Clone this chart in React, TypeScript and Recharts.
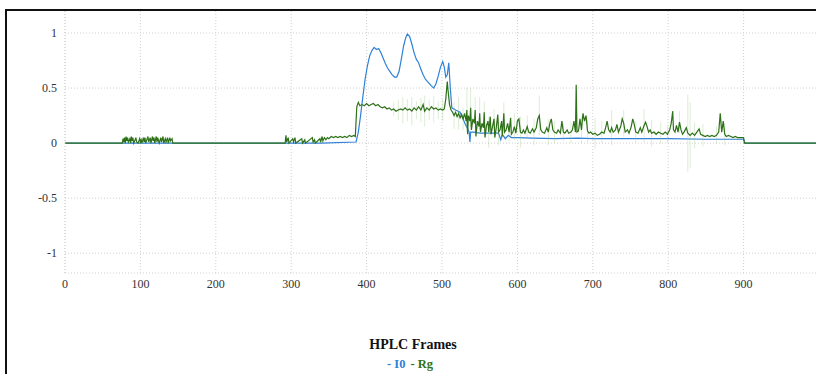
import { LineChart, Line, XAxis, YAxis, CartesianGrid, ErrorBar } from 'recharts';

// HPLC frame numbers / values
const i0Frames = [0, 340, 386, 389, 392, 395, 398, 401, 404, 407, 410, 413, 416, 419, 422, 425, 428, 431, 434, 437, 440, 443, 446, 449, 452, 454, 457, 460, 463, 466, 469, 472, 475, 478, 482, 486, 489, 492, 495, 498, 501, 503, 505, 507, 509, 511, 513, 518, 524, 528, 531, 534, 536, 537, 538, 542, 550, 560, 575, 578, 580, 584, 588, 592, 600, 620, 650, 680, 700, 750, 800, 850, 900, 902, 1000];
const i0Values = [0, 0, 0.01, 0.1, 0.25, 0.42, 0.58, 0.7, 0.79, 0.84, 0.87, 0.85, 0.86, 0.82, 0.77, 0.72, 0.68, 0.65, 0.62, 0.6, 0.6, 0.65, 0.76, 0.88, 0.96, 0.99, 0.97, 0.9, 0.82, 0.76, 0.73, 0.67, 0.62, 0.58, 0.55, 0.52, 0.5, 0.54, 0.61, 0.69, 0.74, 0.69, 0.6, 0.62, 0.73, 0.5, 0.32, 0.3, 0.28, 0.22, 0.17, 0.13, 0.1, 0.01, 0.1, 0.1, 0.09, 0.09, 0.09, 0.03, 0.08, 0.04, 0.07, 0.05, 0.05, 0.045, 0.04, 0.045, 0.04, 0.04, 0.04, 0.035, 0.035, 0, 0];

const rgFrames = [0, 76, 77, 78, 79, 80, 81, 82, 83, 84, 86, 87, 88, 89, 90, 91, 93, 94, 95, 97, 99, 100, 101, 102, 104, 105, 106, 107, 109, 110, 111, 113, 114, 116, 117, 118, 119, 121, 122, 123, 125, 127, 128, 130, 131, 133, 134, 136, 137, 139, 140, 142, 143, 292, 293, 294, 296, 297, 302, 303, 305, 306, 314, 315, 318, 319, 328, 329, 331, 332, 338, 339, 341, 342, 344, 346, 348, 350, 353, 356, 359, 362, 365, 368, 371, 374, 377, 380, 383, 385, 387, 389, 391, 394, 397, 400, 403, 406, 409, 412, 415, 418, 421, 424, 427, 430, 433, 436, 439, 442, 445, 448, 451, 454, 457, 460, 463, 466, 469, 472, 475, 477, 480, 483, 486, 489, 492, 495, 498, 501, 503, 505, 507, 508, 510, 512, 514, 516, 518, 520, 522, 524, 526, 528, 530, 532, 533, 534, 535, 537, 538, 539, 541, 543, 544, 545, 547, 549, 550, 551, 553, 555, 556, 557, 559, 561, 562, 564, 565, 567, 569, 570, 572, 574, 575, 577, 579, 580, 582, 583, 585, 587, 589, 591, 592, 594, 596, 598, 600, 602, 604, 606, 608, 610, 613, 615, 617, 620, 622, 625, 627, 629, 631, 633, 636, 639, 641, 643, 645, 647, 649, 652, 654, 657, 659, 661, 663, 666, 668, 671, 673, 675, 677, 678, 679, 681, 683, 685, 687, 689, 691, 693, 695, 697, 700, 703, 706, 709, 712, 715, 717, 719, 721, 723, 725, 727, 730, 732, 734, 737, 739, 741, 743, 746, 748, 751, 753, 755, 757, 760, 763, 765, 768, 770, 772, 774, 776, 778, 781, 784, 787, 790, 793, 796, 799, 802, 804, 806, 807, 809, 811, 813, 815, 817, 819, 821, 824, 826, 829, 832, 835, 838, 841, 843, 846, 849, 852, 855, 858, 861, 864, 867, 869, 871, 873, 875, 877, 880, 883, 886, 889, 892, 895, 898, 900, 901, 1000];
const rgValues = [0, 0, 0.04, 0.01, 0.05, 0, 0.06, 0.02, 0.05, 0.01, 0.04, 0, 0.06, 0.02, 0.05, 0, 0.03, 0.05, 0.01, 0, 0.04, 0.01, 0.03, 0, 0.05, 0.01, 0.05, 0, 0.04, 0.06, 0.01, 0.05, 0, 0.06, 0.02, 0.05, 0, 0.06, 0.01, 0.05, 0, 0.05, 0.01, 0.06, 0, 0.04, 0.01, 0.05, 0, 0.05, 0.02, 0.04, 0, 0, 0.07, 0.01, 0.05, 0, 0.04, 0.01, 0.05, 0, 0.04, 0, 0.03, 0, 0.05, 0.01, 0.03, 0, 0.04, 0.01, 0.06, 0.02, 0.05, 0.03, 0.05, 0.04, 0.06, 0.05, 0.06, 0.05, 0.06, 0.05, 0.06, 0.05, 0.07, 0.06, 0.07, 0.06, 0.33, 0.37, 0.34, 0.35, 0.34, 0.36, 0.34, 0.35, 0.36, 0.34, 0.35, 0.33, 0.32, 0.33, 0.31, 0.32, 0.3, 0.31, 0.29, 0.3, 0.31, 0.3, 0.32, 0.3, 0.31, 0.29, 0.32, 0.3, 0.33, 0.3, 0.35, 0.29, 0.32, 0.3, 0.33, 0.31, 0.32, 0.3, 0.31, 0.3, 0.31, 0.4, 0.56, 0.48, 0.35, 0.3, 0.28, 0.25, 0.28, 0.24, 0.27, 0.23, 0.26, 0.22, 0.27, 0.2, 0.3, 0.08, 0.25, 0.2, 0.32, 0.12, 0.22, 0.18, 0.3, 0.06, 0.2, 0.15, 0.27, 0.1, 0.18, 0.14, 0.28, 0.05, 0.16, 0.2, 0.1, 0.24, 0.08, 0.15, 0.22, 0.05, 0.14, 0.26, 0.1, 0.12, 0.2, 0.06, 0.27, 0.1, 0.12, 0.18, 0.1, 0.23, 0.08, 0.1, 0.15, 0.09, 0.2, 0.22, 0.1, 0.09, 0.12, 0.09, 0.15, 0.1, 0.09, 0.13, 0.1, 0.14, 0.22, 0.25, 0.12, 0.1, 0.09, 0.14, 0.1, 0.18, 0.22, 0.12, 0.1, 0.09, 0.12, 0.09, 0.2, 0.1, 0.09, 0.12, 0.09, 0.1, 0.12, 0.2, 0.1, 0.53, 0.1, 0.11, 0.22, 0.12, 0.27, 0.2, 0.25, 0.11, 0.09, 0.1, 0.08, 0.09, 0.07, 0.08, 0.1, 0.09, 0.14, 0.2, 0.12, 0.1, 0.14, 0.1, 0.12, 0.17, 0.1, 0.15, 0.22, 0.18, 0.1, 0.12, 0.09, 0.15, 0.22, 0.17, 0.1, 0.09, 0.14, 0.1, 0.16, 0.19, 0.15, 0.1, 0.12, 0.09, 0.1, 0.08, 0.1, 0.09, 0.08, 0.1, 0.08, 0.12, 0.18, 0.29, 0.12, 0.1, 0.16, 0.1, 0.19, 0.12, 0.08, 0.1, 0.14, 0.09, 0.07, 0.09, 0.07, 0.1, 0.13, 0.08, 0.07, 0.06, 0.07, 0.06, 0.07, 0.06, 0.07, 0.1, 0.27, 0.1, 0.2, 0.08, 0.06, 0.07, 0.06, 0.05, 0.06, 0.05, 0.05, 0.05, 0.05, 0, 0];

// Rg uncertainty (faint error bars), only where visible
const rgErrFrames = [436, 442, 448, 454, 460, 466, 472, 477, 483, 489, 495, 501, 516, 522, 528, 533, 538, 544, 550, 556, 562, 569, 575, 582, 589, 596, 604, 613, 622, 629, 641, 649, 661, 671, 685, 693, 703, 712, 725, 741, 757, 768, 778, 790, 799, 815, 826, 829, 835, 846, 864, 875];
const rgErrValues = [0.06, 0.09, 0.12, 0.1, 0.13, 0.08, 0.11, 0.14, 0.09, 0.12, 0.08, 0.1, 0.12, 0.15, 0.1, 0.2, 0.18, 0.12, 0.15, 0.1, 0.14, 0.09, 0.12, 0.1, 0.08, 0.12, 0.14, 0.1, 0.12, 0.18, 0.12, 0.1, 0.08, 0.1, 0.12, 0.1, 0.14, 0.1, 0.16, 0.12, 0.1, 0.15, 0.12, 0.1, 0.08, 0.1, 0.35, 0.3, 0.12, 0.1, 0.08, 0.1];

const xTicks = [0, 100, 200, 300, 400, 500, 600, 700, 800, 900];
const yTicks = [-1, -0.5, 0, 0.5, 1];

const i0Data = i0Frames.map((f, i) => ({ frame: f, value: i0Values[i] }));
const rgData = rgFrames.map((f, i) => {
  const k = rgErrFrames.indexOf(f);
  return { frame: f, value: rgValues[i], err: k >= 0 ? rgErrValues[k] : 0 };
});

const BLUE = '#2f80d8';
const GREEN = '#2e7118';
const tickStyle = { fill: '#333', fontSize: 12, fontFamily: '"Liberation Serif", serif' };
const dotted = { stroke: '#d0d0d0', strokeDasharray: '1 2' };

export default function App() {
  return (
    <div style={{ position: 'fixed', left: 0, top: 0, width: 816, height: 374, overflow: 'hidden', background: '#fff' }}>
      <div style={{ position: 'absolute', left: 5, top: 9, width: 1000, height: 1000, borderLeft: '2px solid #111', borderTop: '2px solid #111' }} />
      <div style={{ position: 'absolute', left: 0, top: 0 }}>
        <LineChart width={830} height={300} margin={{ top: 11, right: 11, left: 8, bottom: 0 }}>
          <CartesianGrid stroke="#d0d0d0" strokeDasharray="1 2" horizontalValues={yTicks} verticalValues={[...xTicks, 1000]} />
          <XAxis
            type="number"
            dataKey="frame"
            domain={[0, 1000]}
            ticks={xTicks}
            allowDataOverflow
            height={27}
            tickLine={false}
            tickSize={6}
            tickMargin={0}
            axisLine={dotted}
            tick={tickStyle}
          />
          <YAxis
            type="number"
            domain={[-1.18, 1.2]}
            ticks={yTicks}
            allowDataOverflow
            width={57}
            tickLine={false}
            axisLine={dotted}
            tick={tickStyle}
          />
          <Line data={i0Data} dataKey="value" name="I0" type="linear" stroke={BLUE} strokeWidth={1.2} dot={false} isAnimationActive={false} />
          <Line data={rgData} dataKey="value" name="Rg" type="linear" stroke={GREEN} strokeWidth={1.2} dot={false} isAnimationActive={false}>
            <ErrorBar dataKey="err" width={0} stroke="#9cc98a" strokeWidth={0.6} strokeOpacity={0.6} direction="y" />
          </Line>
        </LineChart>
      </div>
      <div style={{ position: 'absolute', left: 313, width: 200, top: 337, textAlign: 'center', fontFamily: '"Liberation Serif", serif', fontWeight: 'bold', fontSize: 14, color: '#111' }}>
        HPLC Frames
      </div>
      <div style={{ position: 'absolute', left: 310, width: 200, top: 357, textAlign: 'center', fontFamily: '"Liberation Serif", serif', fontWeight: 'bold', fontSize: 12.5 }}>
        <span style={{ color: BLUE }}>- I0</span>
        <span style={{ color: GREEN, marginLeft: 5 }}>- Rg</span>
      </div>
    </div>
  );
}
